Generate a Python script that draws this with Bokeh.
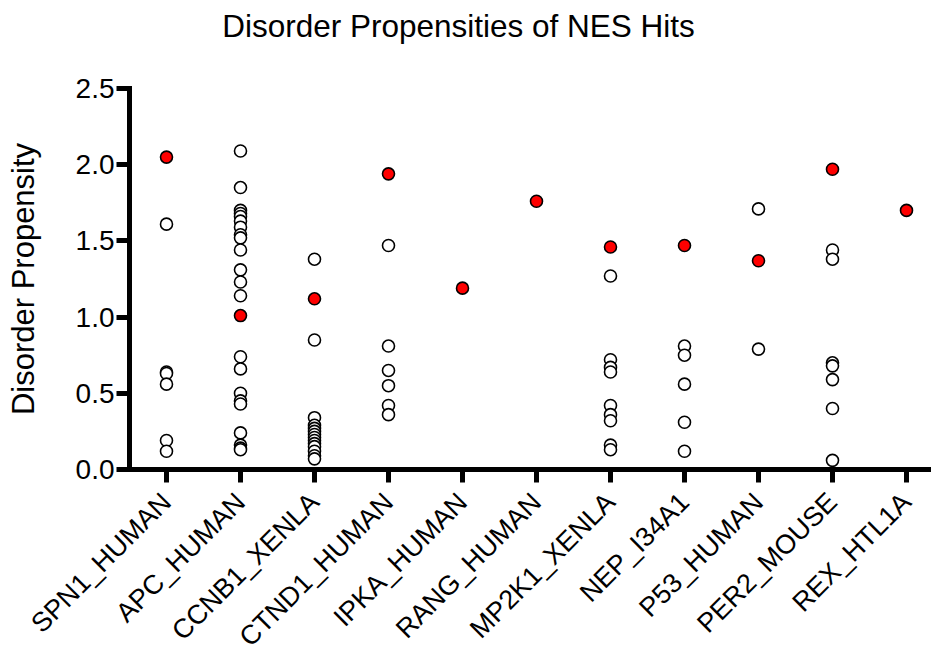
import math
from bokeh.plotting import figure
from bokeh.models import Range1d, FixedTicker, Label, LinearAxis
from bokeh.embed import file_html
from bokeh.resources import INLINE

categories = ["SPN1_HUMAN", "APC_HUMAN", "CCNB1_XENLA", "CTND1_HUMAN", "IPKA_HUMAN",
              "RANG_HUMAN", "MP2K1_XENLA", "NEP_I34A1", "P53_HUMAN", "PER2_MOUSE", "REX_HTL1A"]

# disorder propensity of the true NES hit (red) per protein
hit_values = [2.05, 1.01, 1.12, 1.94, 1.19, 1.76, 1.46, 1.47, 1.37, 1.97, 1.70]

# disorder propensities of other candidate hits (open circles)
spn1_other = [1.61, 0.64, 0.63, 0.56, 0.19, 0.12]
apc_other = [2.09, 1.85, 1.70, 1.68, 1.66, 1.63, 1.59, 1.54, 1.52, 1.44, 1.31, 1.23, 1.14,
             0.74, 0.66, 0.50, 0.45, 0.43, 0.24, 0.16, 0.14, 0.13]
ccnb1_other = [1.38, 0.85, 0.34, 0.29, 0.27, 0.25, 0.23, 0.21, 0.19, 0.17, 0.15, 0.12, 0.09, 0.07]
ctnd1_other = [1.47, 0.81, 0.65, 0.55, 0.42, 0.36]
ipka_other = []
rang_other = []
mp2k1_other = [1.27, 0.72, 0.67, 0.64, 0.42, 0.36, 0.32, 0.16, 0.13]
nep_other = [0.81, 0.75, 0.56, 0.31, 0.12]
p53_other = [1.71, 0.79]
per2_other = [1.44, 1.38, 0.70, 0.68, 0.59, 0.40, 0.06]
rex_other = []

other_values = [spn1_other, apc_other, ccnb1_other, ctnd1_other, ipka_other, rang_other,
                mp2k1_other, nep_other, p53_other, per2_other, rex_other]

y_ticks = [0.0, 0.5, 1.0, 1.5, 2.0, 2.5]
y_tick_labels = ["0.0", "0.5", "1.0", "1.5", "2.0", "2.5"]

ox, oy = [], []
for i, vals in enumerate(other_values):
    for v in vals:
        ox.append(i)
        oy.append(v)
hx = list(range(len(categories)))

FONT = "Liberation Sans"

# the frame covers the whole page; axes are drawn at fixed data locations
X_LO, X_HI = -2.2432, 10.3378
Y_LO, Y_HI = -1.2336, 3.0774

p = figure(width=931, height=657, output_backend="svg", toolbar_location=None,
           x_range=Range1d(X_LO, X_HI), y_range=Range1d(Y_LO, Y_HI),
           x_axis_location=None, y_axis_location=None,
           min_border_left=0, min_border_right=0, min_border_top=0, min_border_bottom=0)

p.xgrid.visible = False
p.ygrid.visible = False
p.outline_line_color = None
p.background_fill_color = "white"
p.border_fill_color = "white"

xa = LinearAxis(fixed_location=0.0, bounds=(-0.5, X_HI))
xa.ticker = FixedTicker(ticks=hx)
xa.major_label_overrides = {i: c for i, c in enumerate(categories)}
xa.major_label_orientation = math.pi / 4
xa.major_label_text_font = FONT
xa.major_label_text_font_size = "27px"
xa.major_label_text_color = "black"
xa.major_label_standoff = 15
xa.axis_line_width = 5
xa.axis_line_color = "black"
xa.major_tick_line_width = 5
xa.major_tick_line_color = "black"
xa.major_tick_out = 13
xa.major_tick_in = 0
xa.minor_tick_line_color = None
p.add_layout(xa, "below")

ya = LinearAxis(fixed_location=-0.5, bounds=(0.0, 2.5))
ya.ticker = FixedTicker(ticks=y_ticks)
ya.major_label_overrides = {t: s for t, s in zip(y_ticks, y_tick_labels)}
ya.major_label_text_font = FONT
ya.major_label_text_font_size = "28px"
ya.major_label_text_color = "black"
ya.major_label_standoff = 2
ya.axis_label = "Disorder Propensity"
ya.axis_label_text_font = FONT
ya.axis_label_text_font_size = "31px"
ya.axis_label_text_font_style = "normal"
ya.axis_label_text_color = "black"
ya.axis_label_standoff = 32
ya.axis_line_width = 5
ya.axis_line_color = "black"
ya.axis_line_cap = "square"
ya.major_tick_line_width = 5
ya.major_tick_line_color = "black"
ya.major_tick_out = 13
ya.major_tick_in = 0
ya.minor_tick_line_color = None
p.add_layout(ya, "left")

p.scatter(ox, oy, size=12, fill_color="white", line_color="black", line_width=1.6)
p.scatter(hx, hit_values, size=12, fill_color="#FF0000", line_color="black", line_width=1.6)

title = Label(x=3.946, y=2.913, x_units="data", y_units="data",
              text="Disorder Propensities of NES Hits", text_font=FONT,
              text_font_size="31.5px", text_color="black",
              text_align="center", text_baseline="alphabetic")
p.add_layout(title)

open("out.html", "w").write(file_html(p, INLINE))
